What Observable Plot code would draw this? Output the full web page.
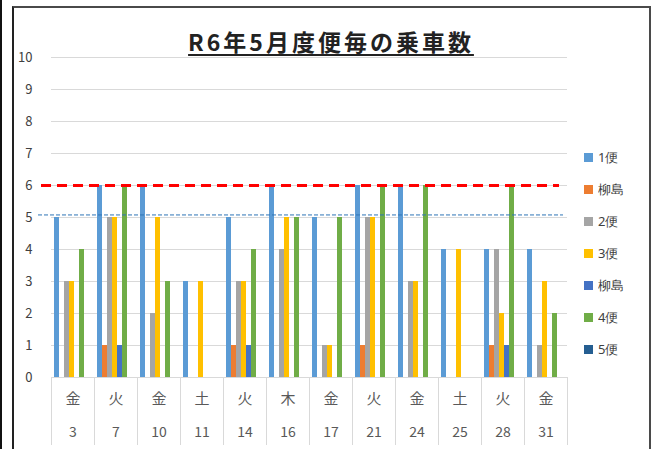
<!DOCTYPE html>
<html><head><meta charset="utf-8">
<script src="https://cdn.jsdelivr.net/npm/d3@7"></script>
<script src="https://cdn.jsdelivr.net/npm/@observablehq/plot@0.6"></script>
<style>
body{margin:0;background:#fff;font-family:"Noto Sans CJK JP","Noto Sans",sans-serif;}
#wrap{position:relative;width:656px;height:449px;overflow:hidden;background:#fff;}
#leftline{position:absolute;left:0;top:0;width:1.5px;height:449px;background:#111;z-index:3;}
#box{position:absolute;left:12px;top:6px;width:635px;height:470px;border:2px solid #4a4a4a;border-left-color:#222;z-index:3;pointer-events:none;}
#title{position:absolute;left:0;width:662px;top:24px;text-align:center;font-size:23px;font-weight:bold;color:#222;text-decoration:underline;text-decoration-thickness:2px;text-underline-offset:3px;letter-spacing:3px;z-index:4;}
#chart{position:absolute;left:0;top:0;}
#overlay{position:absolute;left:0;top:0;z-index:2;pointer-events:none;}
#legend{position:absolute;left:584px;top:141px;z-index:4;}
.lg-swatch{height:32px !important;margin:0 !important;padding:0 !important;font-size:13px;color:#404040;}
.lg-swatch svg{margin-right:5px !important;}
</style>
</head><body>
<div id="wrap">
  <div id="leftline"></div>
  <div id="box"></div>
  <div id="title">R6年5月度便毎の乗車数</div>
  <div id="chart"></div>
  <div id="overlay"></div>
  <div id="legend"></div>
</div>
<script>
const dates    = ["3","7","10","11","14","16","17","21","24","25","28","31"];
const weekdays = ["金","火","金","土","火","木","金","火","金","土","火","金"];
const seriesKeys   = ["s1","y1","s2","s3","y2","s4","s5"];
const seriesNames  = ["1便","柳島","2便","3便","柳島","4便","5便"];
const seriesColors = ["#5B9BD5","#ED7D31","#A5A5A5","#FFC000","#4472C4","#70AD47","#255E91"];
const bin1    = [5,6,6,3,5,6,5,6,6,4,4,4];
const yanagi1 = [0,1,0,0,1,0,0,1,0,0,1,0];
const bin2    = [3,5,2,0,3,4,1,5,3,0,4,1];
const bin3    = [3,5,5,3,3,5,1,5,3,4,2,3];
const yanagi2 = [0,1,0,0,1,0,0,0,0,0,1,0];
const bin4    = [4,6,3,0,4,5,5,6,6,0,6,2];
const bin5    = [0,0,0,0,0,0,0,0,0,0,0,0];
const yTicks  = [0,1,2,3,4,5,6,7,8,9,10];
const limitLine = 6;
const avgLine = 5.08;

const seriesValues = [bin1, yanagi1, bin2, bin3, yanagi2, bin4, bin5];
const rows = [];
dates.forEach((d, i) => seriesKeys.forEach((k, j) => {
  rows.push({date: d, series: k, value: seriesValues[j][i]});
}));
const nameOf = k => seriesNames[seriesKeys.indexOf(k)];
const dayOf = d => weekdays[dates.indexOf(d)];

const common = {
  width: 656, height: 449,
  marginTop: 57, marginBottom: 72, marginLeft: 49, marginRight: 88,
  y: {domain: [0, 10], axis: null}
};
const font = '"Noto Sans CJK JP","Noto Sans",sans-serif';

const chart = Plot.plot({
  ...common,
  style: {fontFamily: font, fontSize: "13px", color: "#404040", background: "transparent"},
  fx: {domain: dates, padding: 0, label: null},
  x: {domain: seriesKeys, paddingInner: 0, paddingOuter: 0.75, align: 0.4, axis: null},
  color: {domain: seriesKeys, range: seriesColors},
  marks: [
    Plot.ruleY(yTicks, {stroke: "#d9d9d9", strokeWidth: 1}),
    Plot.frame({anchor: "left", insetTop: 320, insetBottom: -67, stroke: "#d9d9d9"}),
    Plot.frame({anchor: "right", insetTop: 320, insetBottom: -67, stroke: "#d9d9d9"}),
    Plot.barY(rows.filter(r => r.value > 0), {fx: "date", x: "series", y: "value", fill: "series"}),
    Plot.axisFx({anchor: "bottom", tickSize: 0, tickPadding: 16, tickFormat: dayOf, fontSize: 15, fill: "#595959", label: null}),
    Plot.axisFx({anchor: "bottom", tickSize: 0, tickPadding: 50, tickFormat: d => d, fontSize: 14, fill: "#595959", label: null})
  ]
});
document.getElementById("chart").appendChild(chart);

const overlay = Plot.plot({
  ...common,
  style: {fontFamily: font, fontSize: "13px", color: "#404040", background: "transparent"},
  marks: [
    Plot.axisY({ticks: yTicks, tickSize: 0, tickPadding: 17, fontSize: 13, fill: "#404040", label: null}),
    Plot.ruleY([limitLine], {stroke: "#FF0000", strokeWidth: 3, strokeDasharray: "10,6", insetLeft: -8, insetRight: 9}),
    Plot.ruleY([avgLine], {stroke: "#2E75B6", strokeWidth: 1, strokeDasharray: "4,2", insetLeft: -11, insetRight: 5})
  ]
});
document.getElementById("overlay").appendChild(overlay);

const legend = Plot.legend({
  color: {domain: seriesKeys, range: seriesColors},
  legend: "swatches", columns: 1, swatchSize: 9, tickFormat: nameOf, className: "lg"
});
document.getElementById("legend").appendChild(legend);
</script>
</body></html>
